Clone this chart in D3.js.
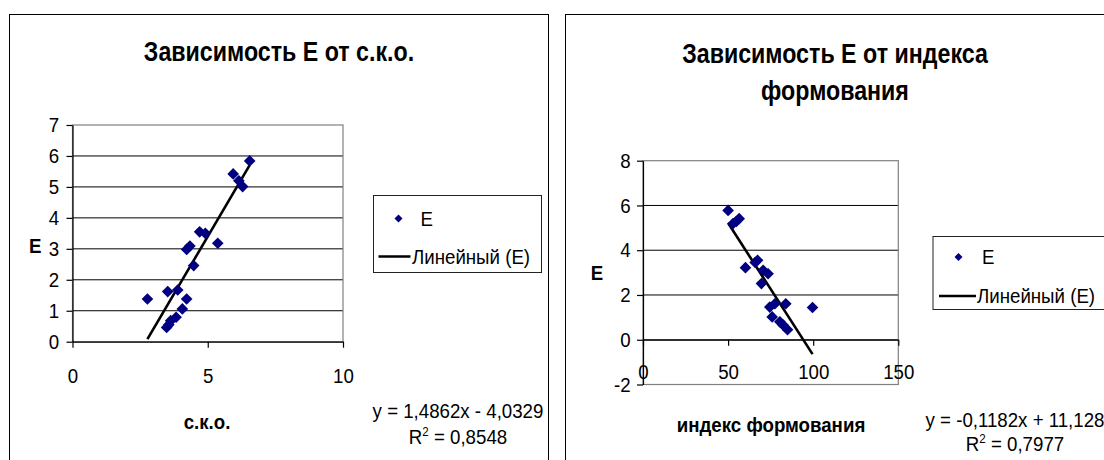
<!DOCTYPE html>
<html lang="ru">
<head>
<meta charset="UTF-8">
<title>Зависимость Е</title>
<script src="https://d3js.org/d3.v7.min.js"></script>
<style>
  body { margin: 0; background: #fff; }
  svg text { font-family: "Liberation Sans", Arial, sans-serif; fill: #000; }
</style>
</head>
<body>
<svg width="1104" height="460"></svg>
<script>
// --- left chart: E vs с.к.о.
const skoX = [2.77, 3.52, 3.89, 4.22, 4.06, 3.83, 3.63, 3.48, 3.56, 4.48, 4.22, 4.34, 4.70, 4.91, 5.37, 5.94, 6.15, 6.29, 6.55];
const skoE = [1.38, 1.62, 1.67, 1.38, 1.06, 0.79, 0.68, 0.46, 0.55, 2.46, 2.98, 3.09, 3.55, 3.50, 3.18, 5.42, 5.20, 5.01, 5.84];
const skoTrend = [1.4862, -4.0329];            // slope, intercept
const skoTicksX = [0, 5, 10];
const skoTicksY = [0, 1, 2, 3, 4, 5, 6, 7];
const skoEquation = "y = 1,4862x - 4,0329";
const skoR2 = "0,8548";

// --- right chart: E vs индекс формования
const idxX = [50, 52.9, 54.9, 56.5, 60.2, 65.9, 67.3, 70.6, 73.5, 69.6, 77.5, 83.9, 74.5, 75.9, 80.4, 82.4, 84.9, 99.6];
const idxE = [5.78, 5.19, 5.29, 5.41, 3.22, 3.45, 3.55, 3.10, 2.95, 2.51, 1.61, 1.61, 1.46, 1.02, 0.80, 0.65, 0.45, 1.44];
const idxTrend = [-0.1182, 11.128];
const idxTicksX = [0, 50, 100, 150];
const idxTicksY = [-2, 0, 2, 4, 6, 8];
const idxEquation = "y = -0,1182x + 11,128";
const idxR2 = "0,7977";

const legendLabels = ["Е", "Линейный (Е)"];

const svg = d3.select("svg");
const SX = 0.89;       // text in the picture is a bit condensed
const FS = 21;
const navy = "#000080";

function label(g, x, y, txt, opts = {}) {
    return g.append("text")
        .attr("transform", `translate(${x},${y}) scale(${opts.sx || SX},1)`)
        .attr("text-anchor", opts.anchor || "middle")
        .attr("font-size", opts.size || FS)
        .attr("font-weight", opts.bold ? "bold" : "normal")
        .text(txt);
}

function drawChart(c) {
    const g = svg.append("g");

    // outer frame
    g.append("rect")
        .attr("x", c.frame[0]).attr("y", c.frame[1])
        .attr("width", c.frame[2]).attr("height", c.frame[3])
        .attr("fill", "#fff").attr("stroke", "#000").attr("stroke-width", 1);

    c.title.forEach((t, i) => label(g, c.titleX, c.titleY + i * 37, t, {bold: true, size: 27, sx: 0.86}));

    const x = d3.scaleLinear().domain(d3.extent(c.ticksX)).range([c.plot.x0, c.plot.x1]);
    const y = d3.scaleLinear().domain(d3.extent(c.ticksY)).range([c.plot.y1, c.plot.y0]);

    // gridlines
    g.append("g").selectAll("line")
        .data(c.ticksY.slice(1, -1))
        .join("line")
        .attr("x1", c.plot.x0).attr("x2", c.plot.x1)
        .attr("y1", d => y(d)).attr("y2", d => y(d))
        .attr("stroke", "#000").attr("stroke-width", 1);

    // plot area border
    g.append("rect")
        .attr("x", c.plot.x0).attr("y", y(c.ticksY[c.ticksY.length - 1]))
        .attr("width", c.plot.x1 - c.plot.x0)
        .attr("height", y(c.ticksY[0]) - y(c.ticksY[c.ticksY.length - 1]))
        .attr("fill", "none").attr("stroke", "#808080").attr("stroke-width", 1.2);

    // y axis
    const ya = g.append("g")
        .attr("transform", `translate(${c.plot.x0},0)`)
        .call(d3.axisLeft(y).tickValues(c.ticksY).tickSize(6).tickSizeOuter(0).tickPadding(c.yPad)
            .tickFormat(d => String(d)));
    // x axis crosses at E = 0
    const xa = g.append("g")
        .attr("transform", `translate(0,${y(0)})`)
        .call(d3.axisBottom(x).tickValues(c.ticksX).tickSize(6).tickSizeOuter(0).tickPadding(c.xPad)
            .tickFormat(d => String(d)));
    [ya, xa].forEach(a => {
        a.selectAll("path, line").attr("stroke", "#000").attr("stroke-width", 1.2);
        a.selectAll("text")
            .attr("font-size", FS)
            .attr("fill", "#000")
            .attr("transform", `scale(${SX},1)`)
            .style("font-family", '"Liberation Sans", Arial, sans-serif');
    });

    // axis titles
    label(g, c.yTitle[0], c.yTitle[1] + 7, "Е", {bold: true});
    label(g, c.xTitle[0], c.xTitle[1] + 7, c.xLabel, {bold: true});

    // trend line over the data range
    const ext = d3.extent(c.xs);
    const [a, b] = c.trend;
    g.append("path")
        .datum(ext.map(v => [v, a * v + b]))
        .attr("d", d3.line().x(d => x(d[0])).y(d => y(d[1])))
        .attr("stroke", "#000").attr("stroke-width", 2.6).attr("fill", "none");

    // points
    const diamond = d3.symbol(d3.symbolSquare, 68);
    g.append("g").selectAll("path")
        .data(c.xs.map((v, i) => [v, c.ys[i]]))
        .join("path")
        .attr("d", diamond)
        .attr("transform", d => `translate(${x(d[0])},${y(d[1])}) rotate(45)`)
        .attr("fill", navy);

    // legend
    const L = c.legend;
    g.append("rect")
        .attr("x", L.x).attr("y", L.y).attr("width", L.w).attr("height", L.h)
        .attr("fill", "#fff").attr("stroke", "#222").attr("stroke-width", 1);
    g.append("path")
        .attr("d", d3.symbol(d3.symbolSquare, 32))
        .attr("transform", `translate(${L.x + L.dx},${L.y + L.dy1}) rotate(45)`)
        .attr("fill", navy);
    label(g, L.x + L.tx1, L.y + L.dy1 + 7, legendLabels[0], {anchor: "start"});
    g.append("line")
        .attr("x1", L.x + L.lx[0]).attr("x2", L.x + L.lx[1])
        .attr("y1", L.y + L.dy2).attr("y2", L.y + L.dy2)
        .attr("stroke", "#000").attr("stroke-width", 2.6);
    label(g, L.x + L.tx2, L.y + L.dy2 + 7, legendLabels[1], {anchor: "start"});

    // equation and R²
    label(g, c.eqX, c.eqY[0] + 7, c.equation);
    const r = g.append("text")
        .attr("transform", `translate(${c.eqX},${c.eqY[1] + 7}) scale(${SX},1)`)
        .attr("text-anchor", "middle")
        .attr("font-size", FS);
    r.append("tspan").text("R");
    r.append("tspan").attr("dy", -8).attr("font-size", 13).text("2");
    r.append("tspan").attr("dy", 8).text(" = " + c.r2);
}

drawChart({
    frame: [9.5, 14.5, 539, 470],
    title: ["Зависимость Е от с.к.о."], titleX: 279, titleY: 61,
    plot: {x0: 72.5, x1: 343, y0: 125, y1: 341.7},
    ticksX: skoTicksX, ticksY: skoTicksY, xPad: 20, yPad: 9,
    xs: skoX, ys: skoE, trend: skoTrend,
    xLabel: "с.к.о.", xTitle: [207, 421.7], yTitle: [35.3, 246],
    legend: {x: 373.5, y: 195.5, w: 168, h: 77, dx: 25, dy1: 23, tx1: 47, lx: [5, 37], dy2: 61, tx2: 38.5},
    equation: skoEquation, r2: skoR2, eqX: 458, eqY: [411, 437]
});

drawChart({
    frame: [565.5, 14.5, 560, 470],
    title: ["Зависимость Е от индекса", "формования"], titleX: 835, titleY: 63,
    plot: {x0: 643, x1: 898.3, y0: 160.7, y1: 384.5},
    ticksX: idxTicksX, ticksY: idxTicksY, xPad: 18, yPad: 8,
    xs: idxX, ys: idxE, trend: idxTrend,
    xLabel: "индекс формования", xTitle: [771, 425], yTitle: [597, 273],
    legend: {x: 933, y: 236.5, w: 190, h: 73, dx: 25.5, dy1: 20.5, tx1: 49, lx: [6, 43], dy2: 59.5, tx2: 44},
    equation: idxEquation, r2: idxR2, eqX: 1015, eqY: [420, 444]
});
</script>
</body>
</html>
